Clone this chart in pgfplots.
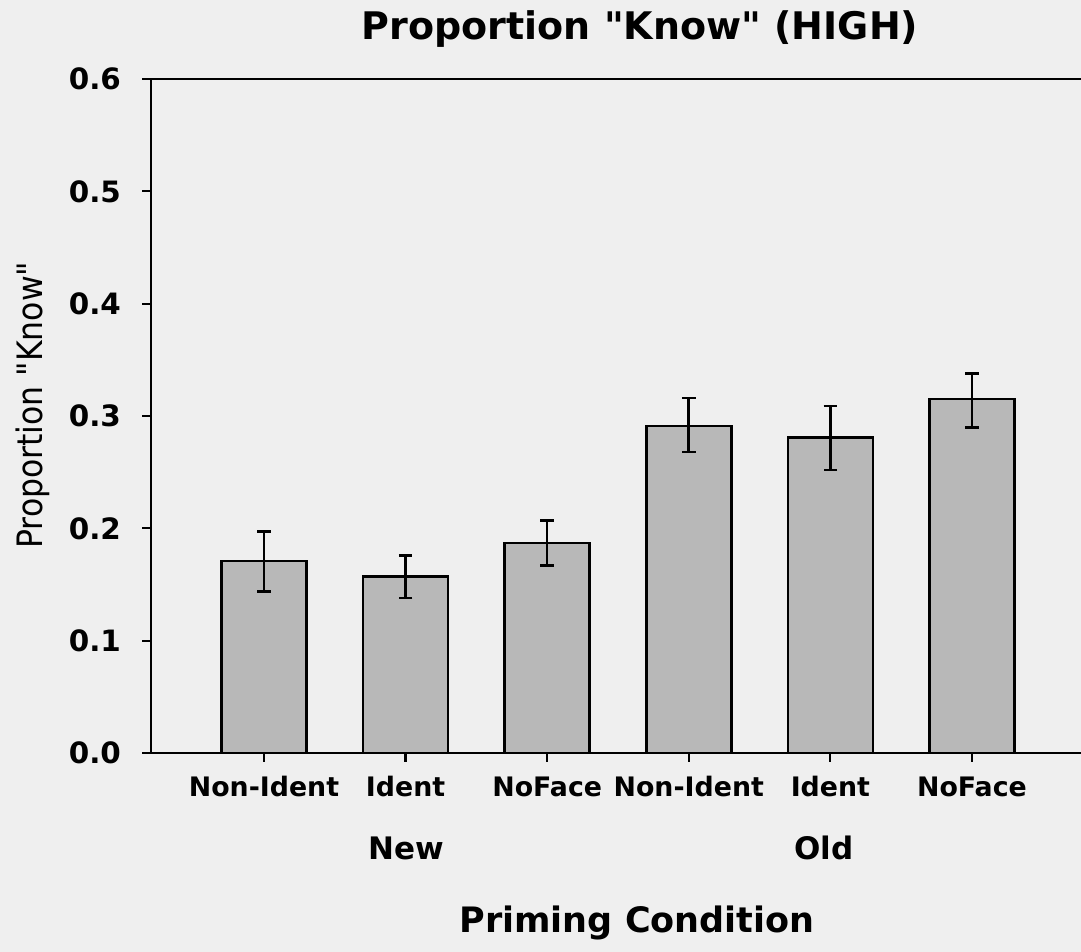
\documentclass[border=0pt]{standalone}
\usepackage{pgfplots}
\pgfplotsset{compat=1.18}
\usepackage{fontspec}
\setmainfont{DejaVu Sans}
\newfontfamily\dv{DejaVu Sans}
\newfontfamily\dvc{DejaVu Sans Condensed}
\definecolor{bgcol}{RGB}{239,239,239}
\definecolor{barcol}{RGB}{184,184,184}
\pgfplotstableread{
x y ep em
0 0.171 0.026 0.027
1 0.157 0.019 0.019
2 0.187 0.020 0.020
3 0.291 0.025 0.023
4 0.281 0.028 0.029
5 0.315 0.023 0.025
}\datatable
\begin{document}
\begin{tikzpicture}
\fill[bgcol] (0pt,0pt) rectangle (540.5pt,476pt);
\path[use as bounding box] (0pt,0pt) rectangle (540.5pt,476pt);
\begin{axis}[
  at={(75.5pt,99.5pt)}, anchor=south west,
  scale only axis, width=465pt, height=337pt,
  xmin=-0.798, xmax=5.77,
  ymin=0, ymax=0.6,
  axis x line*=box, axis y line*=left,
  axis line style={line width=1.4pt, black},
  ybar, bar width=0.6,
  xtick={0,1,2,3,4,5},
  xticklabels={Non-Ident,Ident,NoFace,Non-Ident,Ident,NoFace},
  ytick={0,0.1,0.2,0.3,0.4,0.5,0.6},
  xtick pos=bottom, ytick pos=left,
  tick align=outside,
  major tick length=4.5pt,
  tick style={line width=1.1pt, black},
  xticklabel style={font=\fontsize{13.4}{15}\selectfont\bfseries, text height=10.2pt, yshift=-3.5pt},
  yticklabel style={font=\fontsize{14.7}{16}\selectfont\bfseries, xshift=-7pt,
     /pgf/number format/.cd, fixed, fixed zerofill, precision=1, assume math mode=true},
  clip=false,
]
\addplot[fill=barcol, draw=black, line width=1.3pt,
  error bars/.cd, y dir=both, y explicit,
  error bar style={line width=1.3pt, black},
  error mark options={rotate=90, mark size=3.4pt, line width=1.3pt, black}]
  table[x=x, y=y, y error plus=ep, y error minus=em] {\datatable};
\end{axis}
\begin{scope}[x=0.5pt,y=0.5pt]
\node[anchor=base, font=\dv\fontsize{19}{22}\selectfont\bfseries] at (640,912) {Proportion "Know" (HIGH)};
\node[anchor=base, font=\dv\fontsize{17.5}{20}\selectfont\bfseries] at (637,19) {Priming Condition};
\node[anchor=base, font=\dv\fontsize{15.5}{18}\selectfont\bfseries] at (406,92) {New};
\node[anchor=base, font=\dv\fontsize{15.5}{18}\selectfont\bfseries] at (824,92) {Old};
\node[anchor=base, rotate=90, font=\dvc\fontsize{17.5}{20}\selectfont] at (42,547) {Proportion "Know"};
\end{scope}
\end{tikzpicture}
\end{document}
